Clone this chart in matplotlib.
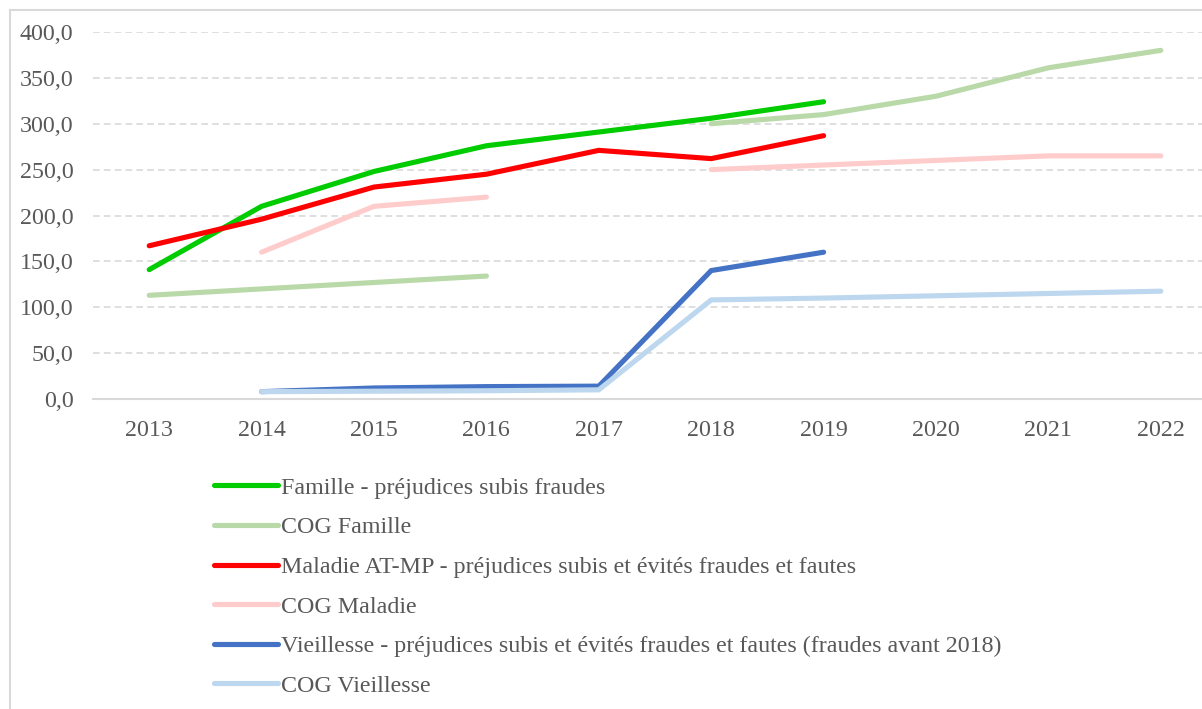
import matplotlib.pyplot as plt
import numpy as np
from matplotlib.patches import Rectangle

# data (None = no value)
years = [2013, 2014, 2015, 2016, 2017, 2018, 2019, 2020, 2021, 2022]
famille = [141, 210, 248, 276, 291, 306, 324, None, None, None]
cog_famille_a = [113, 120, 127, 134, None, None, None, None, None, None]
cog_famille_b = [None, None, None, None, None, 300, 310, 330, 361, 380]
maladie = [167, 196, 231, 245, 271, 262, 287, None, None, None]
cog_maladie_a = [None, 160, 210, 220, None, None, None, None, None, None]
cog_maladie_b = [None, None, None, None, None, 250, 255, 260, 265, 265]
vieillesse = [None, 8, 12, 13.5, 14, 140, 160, None, None, None]
cog_vieillesse = [None, 8, 8.5, 9, 10, 108, 110, 112.5, 115, 117.5]

labels = ['Famille - préjudices subis fraudes',
          'COG Famille',
          'Maladie AT-MP - préjudices subis et évités fraudes et fautes',
          'COG Maladie',
          'Vieillesse - préjudices subis et évités fraudes et fautes (fraudes avant 2018)',
          'COG Vieillesse']
colors = ['#00CC00', '#B9D9A9', '#FF0000', '#FFCCCC', '#4472C4', '#BDD7EE']

plt.rcParams['font.family'] = ['Liberation Serif', 'DejaVu Serif']
txt = '#595959'
lw = 3.7
fs = 17.3

def arr(v):
    return np.array([np.nan if x is None else x for x in v], dtype=float)

fig = plt.figure(figsize=(12.02, 7.09), dpi=100)
# chart border (cropped on the right/bottom)
fig.patches.append(Rectangle((10 / 1202, -0.05), 1.2, 1 - 10 / 709 + 0.05,
                             transform=fig.transFigure, fill=False,
                             edgecolor='#D9D9D9', linewidth=1.5))

ax = fig.add_axes([93 / 1202, 1 - 399 / 709, 1 - 93 / 1202, (399 - 32) / 709])
x = np.array(years)

series = [
    (famille, 0), (cog_famille_a, 1), (cog_famille_b, 1),
    (maladie, 2), (cog_maladie_a, 3), (cog_maladie_b, 3),
    (vieillesse, 4), (cog_vieillesse, 5),
]
handles = {}
for vals, i in series:
    ln, = ax.plot(x, arr(vals), color=colors[i], lw=lw, solid_capstyle='round',
                  solid_joinstyle='round')
    handles.setdefault(i, ln)

ax.set_xlim(2012.5, 2012.5 + (1202 - 93) / 112.4)
ax.set_ylim(0, 400)
ax.set_yticks(np.arange(0, 401, 50))
ax.set_yticklabels([f'{v:.1f}'.replace('.', ',') for v in np.arange(0, 401, 50)])
ax.set_xticks(years)
ax.set_xticklabels([str(y) for y in years])
ax.tick_params(length=0, labelsize=fs, colors=txt)
ax.tick_params(axis='y', pad=14)
ax.tick_params(axis='x', pad=15)
ax.grid(axis='y', color='#D9D9D9', linestyle=(0, (4, 2.5)), linewidth=1.2)
ax.set_axisbelow(True)
for s in ['top', 'right', 'left']:
    ax.spines[s].set_visible(False)
ax.spines['bottom'].set_color('#D9D9D9')
ax.spines['bottom'].set_linewidth(1.5)

leg = fig.legend([handles[i] for i in range(6)], labels, loc='upper left',
                 bbox_to_anchor=(214 / 1202, 1 - 477 / 709), frameon=False,
                 fontsize=fs, handlelength=2.65, handletextpad=0.15,
                 labelspacing=0.74, borderpad=0, borderaxespad=0)
for t in leg.get_texts():
    t.set_color(txt)

fig.savefig('out.png', dpi=100)
